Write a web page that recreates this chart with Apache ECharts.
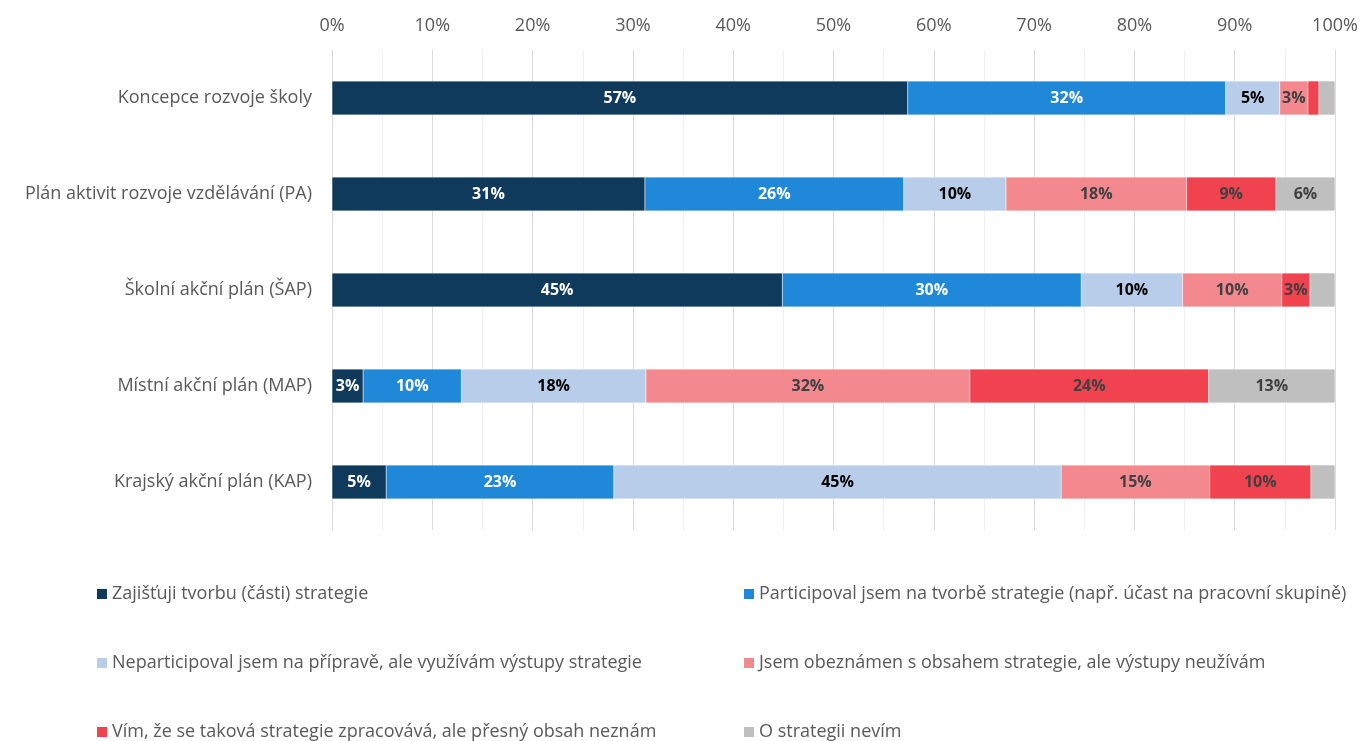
<!DOCTYPE html>
<html><head><meta charset="utf-8">
<script src="https://cdn.jsdelivr.net/npm/echarts@6/dist/echarts.min.js"></script>
<style>html,body{margin:0;padding:0;background:#fff}#c{width:1362px;height:741px}</style>
</head><body><div id="c"></div>
<script>
const categories = ['Koncepce rozvoje školy','Plán aktivit rozvoje vzdělávání (PA)','Školní akční plán (ŠAP)','Místní akční plán (MAP)','Krajský akční plán (KAP)'];
const seriesNames = [
  'Zajišťuji tvorbu (části) strategie',
  'Participoval jsem na tvorbě strategie (např. účast na pracovní skupině)',
  'Neparticipoval jsem na přípravě, ale využívám výstupy strategie',
  'Jsem obeznámen s obsahem strategie, ale výstupy neužívám',
  'Vím, že se taková strategie zpracovává, ale přesný obsah neznám',
  'O strategii nevím'
];
const zajistuji    = [57.4, 31.2, 44.9, 3.1, 5.4];
const participoval = [31.7, 25.8, 29.8, 9.8, 22.7];
const vyuzivam     = [5.4, 10.2, 10.1, 18.4, 44.6];
const obeznamen    = [2.8, 18.0, 9.9, 32.3, 14.8];
const vim          = [1.1, 8.9, 2.8, 23.8, 10.1];
const nevim        = [1.6, 5.9, 2.5, 12.6, 2.4];
const xTicks = [0,10,20,30,40,50,60,70,80,90,100];

const values = [zajistuji, participoval, vyuzivam, obeznamen, vim, nevim];
const colors = ['#0f3a5c','#1f88d9','#b7cdea','#f4888f','#f0424f','#bfbfbf'];
const labelColors = ['#ffffff','#ffffff','#000000','#404040','#404040','#404040'];
const FONT = "'Open Sans', sans-serif";

const chart = echarts.init(document.getElementById('c'));
chart.setOption({
  animation: false,
  grid: {left: 332, right: 27, top: 50, bottom: 211},
  xAxis: {
    type: 'value', position: 'top', min: 0, max: 100, interval: 10,
    axisLine: {show: false}, axisTick: {show: false},
    axisLabel: {formatter: v => xTicks.includes(v) ? v + '%' : '', color: '#595959', fontSize: 18, fontFamily: FONT, margin: 15},
    splitLine: {lineStyle: {color: '#d9d9d9', width: 1}},
    minorTick: {show: false, splitNumber: 2},
    minorSplitLine: {show: true, lineStyle: {color: '#f0f0f0', width: 1}}
  },
  yAxis: {
    type: 'category', data: categories, inverse: true,
    axisLine: {show: true, lineStyle: {color: '#d9d9d9', width: 1}},
    axisTick: {show: false},
    axisLabel: {color: '#595959', fontSize: 18, fontFamily: FONT, margin: 20}
  },
  legend: [
    {orient: 'vertical', left: 95, top: 585, padding: 0, itemGap: 51, itemWidth: 12, itemHeight: 12, icon: 'rect',
     data: [seriesNames[0], seriesNames[2], seriesNames[4]],
     textStyle: {color: '#595959', fontSize: 18, fontFamily: FONT, padding: [0,0,0,-1]}},
    {orient: 'vertical', left: 742, top: 585, padding: 0, itemGap: 51, itemWidth: 12, itemHeight: 12, icon: 'rect',
     data: [seriesNames[1], seriesNames[3], seriesNames[5]],
     textStyle: {color: '#595959', fontSize: 18, fontFamily: FONT, padding: [0,0,0,-1]}}
  ],
  series: seriesNames.map((name, i) => ({
    name, type: 'bar', stack: 'total', barWidth: 34,
    data: values[i],
    itemStyle: {color: colors[i], borderColor: '#ffffff', borderWidth: 0.3},
    label: {
      show: true, position: 'inside', color: labelColors[i], fontWeight: 'bold', fontSize: 16, fontFamily: FONT,
      formatter: p => p.value >= 2.6 ? Math.round(p.value) + '%' : ''
    }
  }))
});
</script></body></html>
